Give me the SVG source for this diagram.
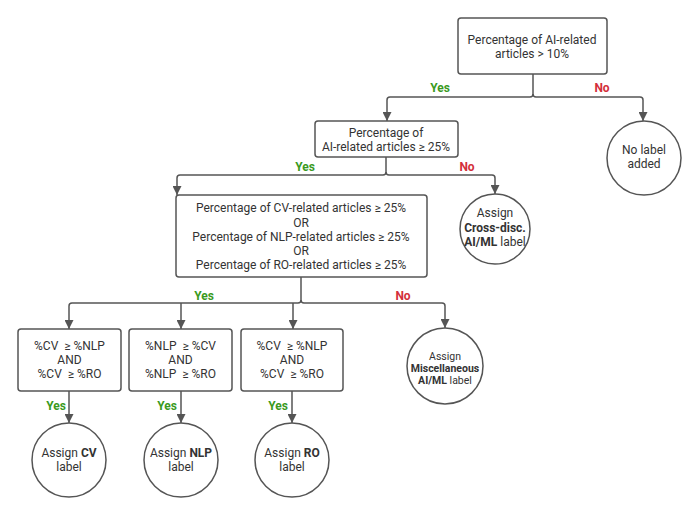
<svg xmlns="http://www.w3.org/2000/svg" width="700" height="516" viewBox="0 0 700 516">
<defs>
<marker id="arr" markerUnits="userSpaceOnUse" markerWidth="9" markerHeight="9" refX="9" refY="4.5" orient="auto">
<path d="M0,0 L9,4.5 L0,9 z" fill="#555"/>
</marker>
<style>
.box{fill:#fff;stroke:#555;stroke-width:1.5}
.c{fill:#fff;stroke:#555;stroke-width:1.5}
.t{font-family:Roboto,"Liberation Sans",sans-serif;font-size:12px;fill:#333;text-anchor:middle}
.s{font-family:Roboto,"Liberation Sans",sans-serif;font-size:10.5px;fill:#333;text-anchor:middle}
.b{font-weight:bold}
.yes{font-family:Roboto,"Liberation Sans",sans-serif;font-size:12px;font-weight:bold;fill:#3a9a1e;text-anchor:middle}
.no{font-family:Roboto,"Liberation Sans",sans-serif;font-size:12px;font-weight:bold;fill:#d32f3a;text-anchor:middle}
.ln{fill:none;stroke:#555;stroke-width:1.5}
</style>
</defs>
<rect width="700" height="516" fill="#fff"/>

<g id="connectors">
<path class="ln" d="M533,74 V94 Q533,97 530,97 H390 Q387,97 387,100 V121" marker-end="url(#arr)"/>
<path class="ln" d="M533,94 Q533,97 536,97 H640 Q643,97 643,100 V121" marker-end="url(#arr)"/>
<path class="ln" d="M386,157 V172 Q386,175 383,175 H180 Q177,175 177,178 V195" marker-end="url(#arr)"/>
<path class="ln" d="M386,172 Q386,175 389,175 H492 Q495,175 495,178 V194" marker-end="url(#arr)"/>
<path class="ln" d="M301,277 V300 Q301,303 298,303 H72 Q69,303 69,306 V329" marker-end="url(#arr)"/>
<path class="ln" d="M181,303 V329" marker-end="url(#arr)"/>
<path class="ln" d="M293,303 V329" marker-end="url(#arr)"/>
<path class="ln" d="M301,300 Q301,303 304,303 H442 Q445,303 445,306 V328" marker-end="url(#arr)"/>
<path class="ln" d="M69,391 V423" marker-end="url(#arr)"/>
<path class="ln" d="M181,391 V423" marker-end="url(#arr)"/>
<path class="ln" d="M292,391 V423" marker-end="url(#arr)"/>
<text class="yes" x="440" y="92">Yes</text>
<text class="no" x="602" y="92">No</text>
<text class="yes" x="305" y="171">Yes</text>
<text class="no" x="467" y="171">No</text>
<text class="yes" x="204" y="300">Yes</text>
<text class="no" x="403" y="300">No</text>
<text class="yes" x="56" y="410">Yes</text>
<text class="yes" x="167" y="410">Yes</text>
<text class="yes" x="278" y="410">Yes</text>
</g>

<g id="n-ai10">
<rect class="box" x="458" y="18" width="149" height="56" rx="3"/>
<text class="t" x="532" y="44">Percentage of AI-related</text>
<text class="t" x="532" y="58">articles &gt; 10%</text>
</g>

<g id="n-ai25">
<rect class="box" x="315" y="121" width="143" height="36" rx="3"/>
<text class="t" x="386" y="137">Percentage of</text>
<text class="t" x="386" y="151">AI-related articles ≥ 25%</text>
</g>

<g id="n-nolabel">
<circle class="c" cx="644" cy="158" r="37"/>
<text class="t" x="644" y="154">No label</text>
<text class="t" x="644" y="168">added</text>
</g>

<g id="n-cross">
<circle class="c" cx="495" cy="229" r="35"/>
<text class="t" x="495" y="217">Assign</text>
<text class="t b" x="495" y="232">Cross-disc.</text>
<text class="t" x="495" y="246"><tspan class="b">AI/ML</tspan> label</text>
</g>

<g id="n-fields">
<rect class="box" x="176" y="195" width="251" height="82" rx="3"/>
<text class="t" x="301" y="212">Percentage of CV-related articles ≥ 25%</text>
<text class="t" x="301" y="227">OR</text>
<text class="t" x="301" y="241">Percentage of NLP-related articles ≥ 25%</text>
<text class="t" x="301" y="255">OR</text>
<text class="t" x="301" y="269">Percentage of RO-related articles ≥ 25%</text>
</g>

<g id="n-misc">
<circle class="c" cx="445" cy="366" r="38"/>
<text class="s" x="445" y="360">Assign</text>
<text class="s b" x="445" y="372">Miscellaneous</text>
<text class="s" x="445" y="384"><tspan class="b">AI/ML</tspan> label</text>
</g>

<g id="n-cvcond">
<rect class="box" x="18" y="329" width="103" height="62" rx="3"/>
<text class="t" x="69.5" y="350" xml:space="preserve">%CV  ≥ %NLP</text>
<text class="t" x="69.5" y="364">AND</text>
<text class="t" x="69.5" y="378" xml:space="preserve">%CV  ≥ %RO</text>
</g>

<g id="n-nlpcond">
<rect class="box" x="129" y="329" width="103" height="62" rx="3"/>
<text class="t" x="180.5" y="350" xml:space="preserve">%NLP  ≥ %CV</text>
<text class="t" x="180.5" y="364">AND</text>
<text class="t" x="180.5" y="378" xml:space="preserve">%NLP  ≥ %RO</text>
</g>

<g id="n-rocond">
<rect class="box" x="241" y="329" width="102" height="62" rx="3"/>
<text class="t" x="292" y="350" xml:space="preserve">%CV  ≥ %NLP</text>
<text class="t" x="292" y="364">AND</text>
<text class="t" x="292" y="378" xml:space="preserve">%CV  ≥ %RO</text>
</g>

<g id="n-cv">
<circle class="c" cx="69" cy="460" r="37"/>
<text class="t" x="69" y="457">Assign <tspan class="b">CV</tspan></text>
<text class="t" x="69" y="471">label</text>
</g>

<g id="n-nlp">
<circle class="c" cx="181" cy="460" r="37"/>
<text class="t" x="181" y="457">Assign <tspan class="b">NLP</tspan></text>
<text class="t" x="181" y="471">label</text>
</g>

<g id="n-ro">
<circle class="c" cx="292" cy="460" r="37"/>
<text class="t" x="292" y="457">Assign <tspan class="b">RO</tspan></text>
<text class="t" x="292" y="471">label</text>
</g>
</svg>
